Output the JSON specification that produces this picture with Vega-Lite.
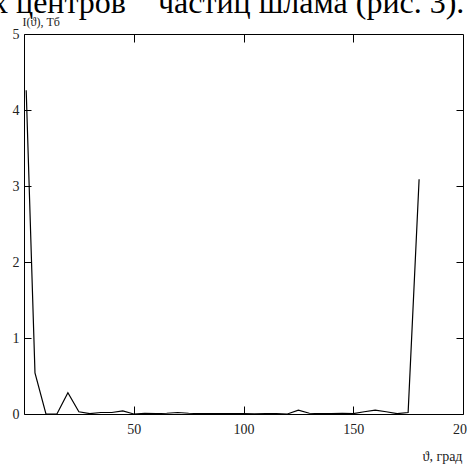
{
  "$schema": "https://vega.github.io/schema/vega-lite/v6.json",
  "width": 439,
  "height": 380,
  "autosize": {"type": "none"},
  "padding": {"left": 24, "top": 34, "right": 4, "bottom": 50},
  "background": "white",
  "config": {
    "view": {"stroke": "black", "strokeWidth": 1},
    "axis": {"domain": false, "grid": false, "labelFont": "Liberation Serif", "titleFont": "Liberation Serif", "labelColor": "#222", "titleColor": "#222", "tickColor": "black", "titleFontWeight": "normal"}
  },
  "title": {
    "text": "х центров \u2002 частиц шлама (рис. 3).",
    "font": "Liberation Serif",
    "fontSize": 32,
    "fontWeight": "normal",
    "color": "black",
    "anchor": "start",
    "frame": "group",
    "baseline": "alphabetic",
    "offset": 2,
    "dx": -32,
    "dy": 32
  },
  "data": {
    "values": [
      {"angle": 1, "I": 4.26},
      {"angle": 5, "I": 0.54},
      {"angle": 10, "I": 0},
      {"angle": 15, "I": 0},
      {"angle": 20, "I": 0.28},
      {"angle": 25, "I": 0.03},
      {"angle": 30, "I": 0.005},
      {"angle": 35, "I": 0.02},
      {"angle": 40, "I": 0.02},
      {"angle": 45, "I": 0.04},
      {"angle": 50, "I": 0.0},
      {"angle": 55, "I": 0.01},
      {"angle": 60, "I": 0.005},
      {"angle": 65, "I": 0.01},
      {"angle": 70, "I": 0.02},
      {"angle": 75, "I": 0.01},
      {"angle": 80, "I": 0.005},
      {"angle": 85, "I": 0.005},
      {"angle": 90, "I": 0.005},
      {"angle": 95, "I": 0.005},
      {"angle": 100, "I": 0.005},
      {"angle": 105, "I": 0.002},
      {"angle": 110, "I": 0.005},
      {"angle": 115, "I": 0.005},
      {"angle": 120, "I": 0.0},
      {"angle": 125, "I": 0.05},
      {"angle": 130, "I": 0.01},
      {"angle": 135, "I": 0.005},
      {"angle": 140, "I": 0.005},
      {"angle": 145, "I": 0.01},
      {"angle": 150, "I": 0.005},
      {"angle": 155, "I": 0.03},
      {"angle": 160, "I": 0.05},
      {"angle": 165, "I": 0.03},
      {"angle": 170, "I": 0.005},
      {"angle": 175, "I": 0.02},
      {"angle": 180, "I": 3.09}
    ]
  },
  "layer": [
    {
      "mark": {"type": "line", "color": "black", "strokeWidth": 1.2},
      "encoding": {
        "x": {
          "field": "angle", "type": "quantitative",
          "scale": {"domain": [0, 200], "nice": false, "zero": false},
          "axis": {"orient": "bottom", "values": [50, 100, 150, 200], "tickSize": -8, "labelPadding": 16, "labelFontSize": 14, "labelFlush": false,
            "title": "ϑ, град", "titleX": 438, "titleY": 46, "titleAlign": "right", "titleBaseline": "alphabetic", "titleFontSize": 14}
        },
        "y": {
          "field": "I", "type": "quantitative",
          "scale": {"domain": [0, 5], "nice": false},
          "axis": {"orient": "left", "values": [0, 1, 2, 3, 4, 5], "tickSize": -7, "labelPadding": 12, "labelFontSize": 14, "labelFlush": false,
            "title": "I(ϑ), Тб", "titleAngle": 0, "titleX": -2, "titleY": -9, "titleAlign": "left", "titleBaseline": "alphabetic", "titleFontSize": 12}
        }
      }
    },
    {
      "mark": {"type": "line", "opacity": 0},
      "encoding": {
        "x": {
          "field": "angle", "type": "quantitative",
          "scale": {"domain": [0, 200], "nice": false, "zero": false},
          "axis": {"orient": "top", "values": [50, 100, 150], "tickSize": -8, "labels": false, "title": null}
        },
        "y": {
          "field": "I", "type": "quantitative",
          "scale": {"domain": [0, 5], "nice": false},
          "axis": {"orient": "right", "values": [1, 2, 3, 4], "tickSize": -7, "labels": false, "title": null}
        }
      }
    }
  ],
  "resolve": {"axis": {"x": "independent", "y": "independent"}}
}
